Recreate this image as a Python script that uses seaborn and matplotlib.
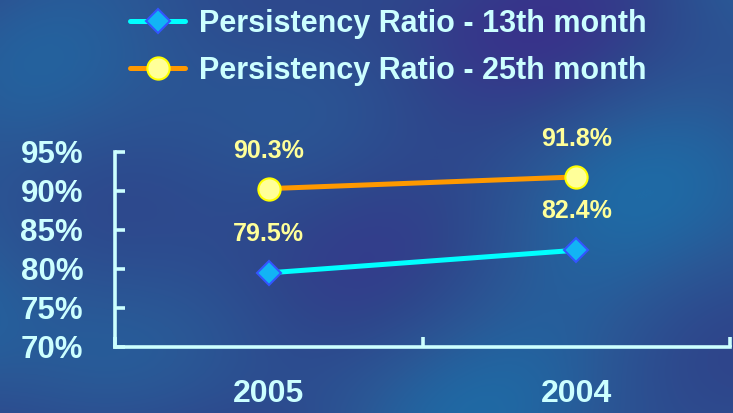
import numpy as np
import pandas as pd
import matplotlib
matplotlib.use("Agg")
import matplotlib.pyplot as plt
from matplotlib.colors import LinearSegmentedColormap
import seaborn as sns

years = ["2005", "2004"]
ratio_13th = [79.5, 82.4]
ratio_25th = [90.3, 91.8]
label_13th = "Persistency Ratio - 13th month"
label_25th = "Persistency Ratio - 25th month"
yticks = [70, 75, 80, 85, 90, 95]

sns.set_style("white")
plt.rcParams['font.family'] = ['Liberation Sans', 'DejaVu Sans']
plt.rcParams['font.weight'] = 'bold'

pale = "#CCFFFF"
yellow = "#FFFF99"

fig = plt.figure(figsize=(7.33, 4.13), dpi=100)

# cloudy blue backdrop
bg = fig.add_axes([0, 0, 1, 1])
gx, gy = np.meshgrid(np.linspace(0, 1, 300), np.linspace(0, 1, 170))
field = (np.sin(gx * 7 + gy * 3) + 0.8 * np.cos(gx * 3 - gy * 9 + 1.2)
         + 0.6 * np.sin(gx * 13 + gy * 5 + 0.7) + 0.5 * np.cos(gy * 6 + 2))
cmap = LinearSegmentedColormap.from_list("sky", ["#38338A", "#2E478C", "#2A5896", "#1F6AA5"])
bg.imshow(field, cmap=cmap, aspect="auto", extent=[0, 1, 0, 1], interpolation="bicubic")
bg.axis("off")

ax = fig.add_axes([0.157, 0.16, 0.839, 0.472])
ax.patch.set_alpha(0)

df = pd.DataFrame({"year": years, "r13": ratio_13th, "r25": ratio_25th})
df["x"] = range(len(years))

sns.lineplot(data=df, x="x", y="r25", ax=ax, color="#FF9900", lw=3.6,
             marker="o", markersize=16, markerfacecolor=yellow,
             markeredgecolor="#FFFF00", markeredgewidth=1.5, label=label_25th)
sns.lineplot(data=df, x="x", y="r13", ax=ax, color="#00FFFF", lw=3.6,
             marker="D", markersize=12.5, markerfacecolor="#12B4F5",
             markeredgecolor="#3355FF", markeredgewidth=1.5, label=label_13th)

for xi, v in zip(df["x"], ratio_25th):
    ax.annotate(f"{v:.1f}%", (xi, v), xytext=(0, 27), textcoords="offset points",
                ha="center", va="center", color=yellow, fontsize=18, fontweight="bold")
for xi, v in zip(df["x"], ratio_13th):
    ax.annotate(f"{v:.1f}%", (xi, v), xytext=(0, 28), textcoords="offset points",
                ha="center", va="center", color=yellow, fontsize=18, fontweight="bold")

ax.set_xlim(-0.5, len(years) - 0.5)
ax.set_ylim(70, 95)
ax.set_yticks(yticks)
ax.set_yticklabels([f"{t}%" for t in yticks])
ax.set_xticks(df["x"])
ax.set_xticklabels(years)
ax.set_xticks(np.arange(-0.5, len(years), 1), minor=True)
ax.set_xlabel("")
ax.set_ylabel("")

for side in ["top", "right"]:
    ax.spines[side].set_visible(False)
for side in ["left", "bottom"]:
    ax.spines[side].set_color(pale)
    ax.spines[side].set_linewidth(2.6)

ax.tick_params(axis="y", direction="in", length=7, width=2.6, color=pale,
               labelcolor=pale, labelsize=22.5, pad=23, left=True)
ax.tick_params(axis="x", which="major", length=0, labelcolor=pale, labelsize=23, pad=23)
ax.tick_params(axis="x", which="minor", direction="in", length=7, width=2.6,
               color=pale, bottom=True)
for t in ax.get_yticklabels() + ax.get_xticklabels():
    t.set_fontweight("bold")

handles, labels = ax.get_legend_handles_labels()
ax.legend_.remove()
leg = fig.legend(handles[::-1], labels[::-1], loc="upper left",
                 bbox_to_anchor=(0.14, 1.045), frameon=False,
                 handlelength=1.8, handletextpad=0.45, labelspacing=0.55,
                 prop={"weight": "bold", "size": 22})
for t in leg.get_texts():
    t.set_color(pale)

fig.savefig("out.png", dpi=100)
